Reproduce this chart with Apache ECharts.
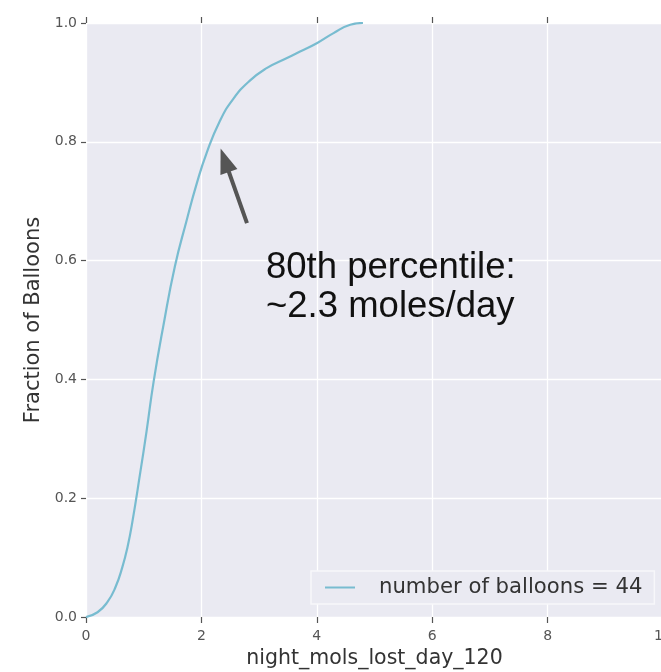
<!DOCTYPE html>
<html>
<head>
<meta charset="utf-8">
<script src="https://cdn.jsdelivr.net/npm/echarts@6/dist/echarts.min.js"></script>
<style>
html,body{margin:0;padding:0;background:#fff;}
#chart{width:661px;height:672px;}
</style>
</head>
<body>
<div id="chart"></div>
<script>
// Data
var molsLost = [0, 0.2, 0.37, 0.51, 0.63, 0.72, 0.80, 0.94, 1.05, 1.17, 1.34, 1.54, 1.745, 1.92, 2.09, 2.32, 2.55, 2.84, 3.13, 3.42, 3.71, 4.0, 4.29, 4.58, 4.8];
var fraction = [0, 0.008, 0.025, 0.05, 0.084, 0.118, 0.158, 0.243, 0.313, 0.395, 0.49, 0.59, 0.668, 0.73, 0.781, 0.835, 0.872, 0.903, 0.924, 0.938, 0.952, 0.966, 0.983, 0.997, 1.0];
var seriesName = 'number of balloons = 44';
var xTicks = [0, 2, 4, 6, 8, 10];
var yTicks = [0.0, 0.2, 0.4, 0.6, 0.8, 1.0];
var arrowTail = [2.79, 0.663];
var arrowHead = [2.405, 0.769];
var annotationLines = ['80th percentile:', '~2.3 moles/day'];

var points = molsLost.map(function (x, i) { return [x, fraction[i]]; });

var chart = echarts.init(document.getElementById('chart'), null, {renderer: 'canvas'});
var font = 'DejaVu Sans';
var tickColor = '#555';

var option = {
  animation: false,
  backgroundColor: '#ffffff',
  grid: {left: 86, top: 23, width: 577, height: 594, show: true, backgroundColor: '#eaeaf2', borderWidth: 0, containLabel: false, outerBoundsMode: 'none'},
  xAxis: [{
    type: 'value', min: xTicks[0], max: xTicks[xTicks.length - 1], interval: 2,
    name: 'night_mols_lost_day_120', nameLocation: 'middle', nameGap: 27,
    nameTextStyle: {fontFamily: font, fontSize: 20.5, color: '#333'},
    axisLine: {show: false},
    axisTick: {show: true, length: 6, lineStyle: {color: tickColor, width: 1.2}},
    axisLabel: {fontFamily: font, fontSize: 14, color: tickColor, margin: 12, showMaxLabel: true, showMinLabel: true},
    splitLine: {show: true, lineStyle: {color: '#ffffff', width: 1.3}}
  }, {
    type: 'value', position: 'top', min: xTicks[0], max: xTicks[xTicks.length - 1], interval: 2,
    axisLine: {show: false},
    axisTick: {show: true, length: 6, lineStyle: {color: tickColor, width: 1.2}},
    axisLabel: {show: false},
    splitLine: {show: false}
  }],
  yAxis: {
    type: 'value', min: yTicks[0], max: yTicks[yTicks.length - 1], interval: 0.2,
    name: 'Fraction of Balloons', nameLocation: 'middle', nameGap: 42,
    nameTextStyle: {fontFamily: font, fontSize: 21, color: '#333'},
    axisLine: {show: false},
    axisTick: {show: true, length: 5, lineStyle: {color: tickColor, width: 1.2}},
    axisLabel: {fontFamily: font, fontSize: 14, color: tickColor, margin: 9, formatter: function (v) { return v.toFixed(1); }},
    splitLine: {show: true, lineStyle: {color: '#ffffff', width: 1.3}}
  },
  legend: {
    left: 311, top: 571, orient: 'horizontal',
    padding: [6, 12, 6, 14],
    backgroundColor: '#eaeaf2', borderColor: '#f7f7fa', borderWidth: 1.5,
    icon: 'rect', itemWidth: 30, itemHeight: 2,
    textStyle: {fontFamily: font, fontSize: 21.2, color: '#333', padding: [0, 0, 0, 19]},
    data: [seriesName]
  },
  series: [{
    name: seriesName, type: 'line', data: points, smooth: 0.5,
    showSymbol: false, symbol: 'none',
    lineStyle: {color: '#78bcd0', width: 2.2},
    itemStyle: {color: '#78bcd0'},
    markLine: {
      silent: true, animation: false,
      symbol: ['none', 'triangle'], symbolSize: [18, 25],
      label: {show: false},
      lineStyle: {color: '#555', width: 4, type: 'solid'},
      itemStyle: {color: '#555'},
      data: [[{coord: arrowTail}, {coord: arrowHead}]]
    }
  }],
  graphic: [
    {type: 'text', left: 266, top: 249, z: 100, style: {text: annotationLines[0], font: '36.5px "Liberation Sans"', fill: '#111'}},
    {type: 'text', left: 266, top: 288, z: 100, style: {text: annotationLines[1], font: '36.5px "Liberation Sans"', fill: '#111'}}
  ]
};
chart.setOption(option);
</script>
</body>
</html>
